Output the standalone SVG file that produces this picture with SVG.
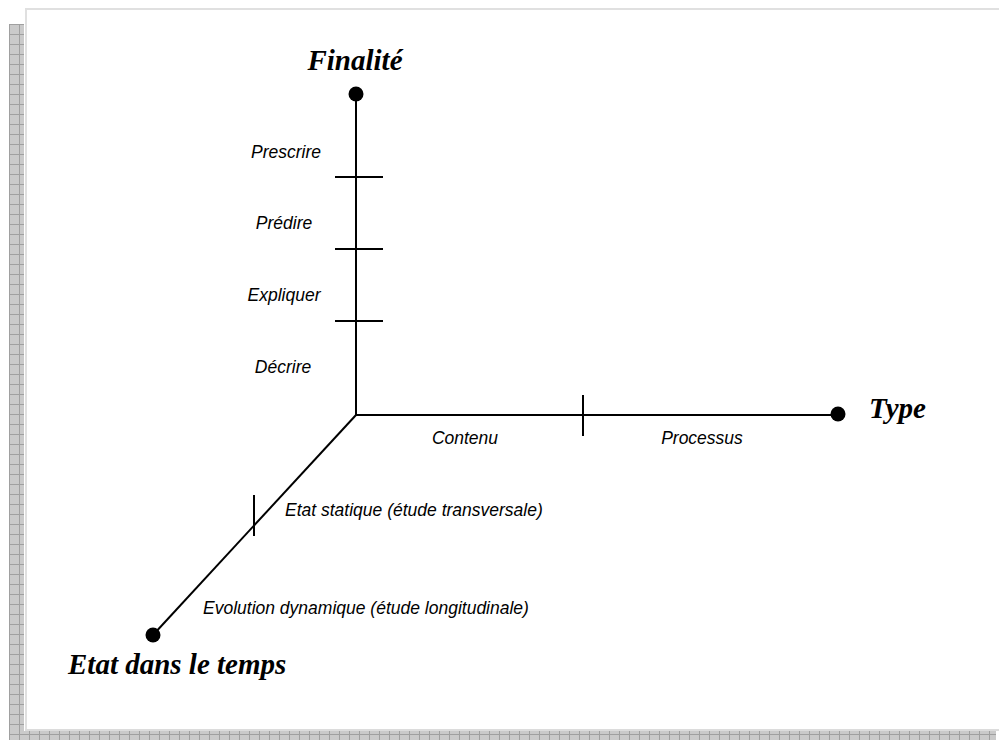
<svg xmlns="http://www.w3.org/2000/svg" width="999" height="740" viewBox="0 0 999 740">
<style>
.ax{stroke:#000;stroke-width:2;fill:none}
.tk{stroke:#000;stroke-width:2}
.dot{fill:#000}
.big{font-family:"Liberation Serif","Times New Roman",serif;font-weight:bold;font-style:italic;font-size:29px;fill:#000}
.sm{font-family:"Liberation Sans",Arial,sans-serif;font-style:italic;font-size:17.5px;fill:#000}
</style>
<defs>
<pattern id="grid" width="10" height="10" patternUnits="userSpaceOnUse" x="9" y="4">
<rect width="10" height="10" fill="#cacaca"/>
<path d="M0 0.5H10M0.5 0V10" stroke="#a0a0a0" stroke-width="1"/>
</pattern>
</defs>
<rect width="999" height="740" fill="#fff"/>
<g id="frame">
<rect x="9" y="24" width="15" height="716" fill="url(#grid)"/>
<rect x="9" y="731" width="987" height="9" fill="url(#grid)"/>
<rect x="25" y="8" width="974" height="2" fill="#e0e0e0"/>
<rect x="25" y="8" width="2" height="722" fill="#e0e0e0"/>
<rect x="25" y="729" width="974" height="2" fill="#dcdcdc"/>
</g>
<g id="connectors">
<line class="ax" x1="356" y1="94" x2="356" y2="415"/>
<line class="ax" x1="355" y1="415" x2="838" y2="415"/>
<line class="ax" x1="356" y1="415" x2="153" y2="635"/>
<line class="tk" x1="335" y1="177" x2="383" y2="177"/>
<line class="tk" x1="335" y1="249" x2="383" y2="249"/>
<line class="tk" x1="335" y1="321" x2="383" y2="321"/>
<line class="tk" x1="583" y1="395" x2="583" y2="436"/>
<line class="tk" x1="254" y1="495" x2="254" y2="536"/>
</g>
<g id="finalite">
<circle class="dot" cx="356" cy="94" r="7.5"/>
<text class="big" x="355" y="70" text-anchor="middle">Finalité</text>
</g>
<g id="type">
<circle class="dot" cx="838" cy="414" r="7.5"/>
<text class="big" x="869" y="418">Type</text>
</g>
<g id="etat">
<circle class="dot" cx="153" cy="635" r="7.5"/>
<text class="big" x="68" y="674">Etat dans le temps</text>
</g>
<g id="labels">
<text class="sm" x="286" y="158" text-anchor="middle">Prescrire</text>
<text class="sm" x="284" y="229" text-anchor="middle">Prédire</text>
<text class="sm" x="284" y="301" text-anchor="middle">Expliquer</text>
<text class="sm" x="283" y="373" text-anchor="middle">Décrire</text>
<text class="sm" x="465" y="444" text-anchor="middle">Contenu</text>
<text class="sm" x="702" y="444" text-anchor="middle">Processus</text>
<text class="sm" x="285" y="516">Etat statique (étude transversale)</text>
<text class="sm" x="203" y="614">Evolution dynamique (étude longitudinale)</text>
</g>
</svg>
